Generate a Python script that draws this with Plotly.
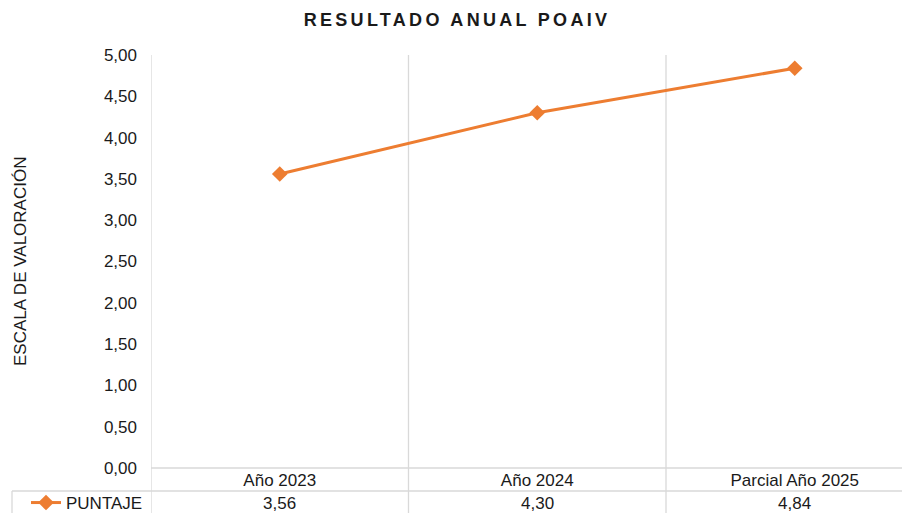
import plotly.graph_objects as go

categories = ["Año 2023", "Año 2024", "Parcial Año 2025"]
puntaje = [3.56, 4.30, 4.84]
series_name = "PUNTAJE"
title_text = "RESULTADO ANUAL POAIV"
y_title = "ESCALA DE VALORACIÓN"

ORANGE = "#ED7D31"
GRID = "#D9D9D9"
TXT = "#1a1a1a"
FONT = "Liberation Sans, Arial, sans-serif"

OFF = 8  # page body margin
PAGE_W, PAGE_H = 910, 513
W, H = PAGE_W - OFF, PAGE_H - OFF
PLOT_L, PLOT_T, PLOT_B = 151, 55, 468
L, T = PLOT_L - OFF, PLOT_T - OFF
B = H - (PLOT_B - OFF)
R = 0
cat_w = 257.5
plot_w = W - L - R
x_hi = -0.5 + plot_w / cat_w
plot_h = H - T - B

def py(px):
    return (PLOT_B - px) / plot_h

def pxx(px):
    return (px - PLOT_L) / plot_w

fig = go.Figure()
fig.add_trace(go.Scatter(
    x=categories, y=puntaje, name=series_name, mode="lines+markers",
    line=dict(color=ORANGE, width=3),
    marker=dict(symbol="diamond", size=12, color=ORANGE),
    showlegend=True, hoverinfo="x+y",
))

shapes = []
n = len(categories)
for i in range(n):
    shapes.append(dict(type="line", xref="x", yref="paper",
                       x0=i - 0.5, x1=i - 0.5, y0=py(PAGE_H + 2), y1=1,
                       line=dict(color=GRID, width=1.3), layer="below"))
shapes.append(dict(type="line", xref="paper", yref="paper",
                   x0=0, x1=1, y0=0, y1=0,
                   line=dict(color=GRID, width=1.3), layer="below"))
shapes.append(dict(type="line", xref="paper", yref="paper",
                   x0=pxx(12), x1=1, y0=py(491), y1=py(491),
                   line=dict(color=GRID, width=1.3), layer="below"))
shapes.append(dict(type="line", xref="paper", yref="paper",
                   x0=pxx(12), x1=pxx(12), y0=py(PAGE_H + 2), y1=py(491),
                   line=dict(color=GRID, width=1.3), layer="below"))

annotations = []
for c, v in zip(categories, puntaje):
    annotations.append(dict(x=c, y=py(503), xref="x", yref="paper",
                            text=f"{v:.2f}".replace(".", ","), showarrow=False,
                            font=dict(family=FONT, size=17, color=TXT),
                            xanchor="center", yanchor="middle"))
annotations.append(dict(x=pxx(20), y=py(262), xref="paper", yref="paper",
                        text=y_title, textangle=-90, showarrow=False,
                        font=dict(family=FONT, size=17, color=TXT),
                        xanchor="center", yanchor="middle"))

fig.update_layout(
    width=W, height=H,
    margin=dict(l=L, r=R, t=T, b=B, pad=0, autoexpand=False),
    paper_bgcolor="white", plot_bgcolor="white",
    separators=",.",
    font=dict(family=FONT, size=17, color=TXT),
    title=dict(text=f'<span style="letter-spacing:3.3px">{title_text}</span>',
               x=(457 - OFF) / W, xref="container", xanchor="center",
               y=1 - (20 - OFF) / H, yref="container", yanchor="middle",
               font=dict(family=FONT, size=18, color=TXT, weight="bold")),
    xaxis=dict(type="category", range=[-0.5, x_hi], showgrid=False,
               showline=False, zeroline=False, ticks="",
               tickfont=dict(family=FONT, size=17, color=TXT),
               fixedrange=True),
    yaxis=dict(range=[0, 5], dtick=0.5, tick0=0, tickformat=".2f",
               showgrid=False, zeroline=False, showline=False, ticks="",
               ticklabelstandoff=13,
               tickfont=dict(family=FONT, size=17, color=TXT),
               fixedrange=True),
    legend=dict(x=pxx(26), xanchor="left", y=py(503), yanchor="middle",
                xref="paper", yref="paper", bgcolor="rgba(0,0,0,0)",
                font=dict(family=FONT, size=17, color=TXT),
                itemwidth=30, tracegroupgap=0),
    shapes=shapes,
    annotations=annotations,
)

fig.write_html("out.html")
